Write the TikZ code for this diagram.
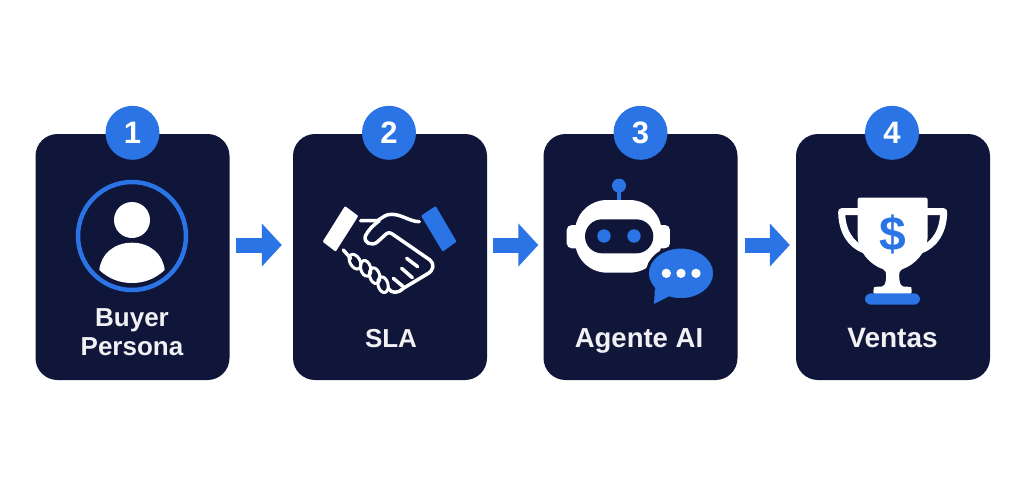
\documentclass[tikz,border=0pt]{standalone}
\usepackage{fontspec}
\setmainfont{Liberation Sans}
\usetikzlibrary{arrows.meta, positioning}
\definecolor{navy}{HTML}{10163A}
\definecolor{azure}{HTML}{2A74E6}
\definecolor{paper}{HTML}{FFFFFF}

\begin{document}
\begin{tikzpicture}[x=1pt,y=-1pt,>=Stealth]
  \tikzstyle{card}=[fill=navy,rounded corners=22pt,minimum width=194pt,minimum height=246pt,inner sep=0pt]
  \tikzstyle{badge}=[circle,fill=azure,text=white,minimum size=54pt,inner sep=0pt,font=\bfseries\fontsize{31}{31}\selectfont]
  \tikzstyle{caption}=[text=white!94!navy,align=center,inner sep=0pt,font=\bfseries\fontsize{26}{29}\selectfont]
  \tikzstyle{flow}=[draw=azure,line width=15pt,-{Triangle[width=42pt,length=20pt]}]
  \tikzstyle{handline}=[draw=white,line width=3.5pt,line cap=round,line join=round]
  \tikzstyle{knuckle}=[draw=white,line width=3pt,x radius=8pt,y radius=5pt]

  \fill[paper] (0,0) rectangle (1024,491);
  \useasboundingbox (0,0) rectangle (1024,491);

  \node[card] (C1) at (132.5,257) {};
  \node[card] (C2) at (390,257) {};
  \node[card] (C3) at (640.5,257) {};
  \node[card] (C4) at (893,257) {};

  \node[badge] (B1) at ([yshift=1pt]C1.north) {1};
  \node[badge] (B2) at ([xshift=-1pt,yshift=1pt]C2.north) {2};
  \node[badge] (B3) at ([yshift=1pt]C3.north) {3};
  \node[badge] (B4) at ([xshift=-1pt,yshift=1pt]C4.north) {4};

  \node[caption] (L1) at (132,332.5) {Buyer\\Persona};
  \node[caption,anchor=base] (L2) at (391,347) {SLA};
  \node[caption,anchor=base,font=\bfseries\fontsize{27.5}{29}\selectfont] (L3) at (639,347.5) {Agente AI};
  \node[caption,anchor=base,font=\bfseries\fontsize{28}{29}\selectfont] (L4) at (892.5,347.5) {Ventas};

  \draw[flow,shorten <=6pt,shorten >=11pt] ([yshift=12pt]C1.east) -- ([yshift=12pt]C2.west);
  \draw[flow,shorten <=6pt,shorten >=5pt] ([yshift=12pt]C2.east) -- ([yshift=12pt]C3.west);
  \draw[flow,shorten <=7pt,shorten >=6pt] ([yshift=12pt]C3.east) -- ([yshift=12pt]C4.west);

  % person
  \draw[azure,line width=4.5pt] (132,236) circle (54);
  \fill[white] (132,220) circle (18);
  \fill[white] (99.3,270) .. controls (101,254) and (114,242.7) .. (132,242.7)
    .. controls (150,242.7) and (163,254) .. (164.7,270)
    .. controls (155,279) and (144,283) .. (132,283)
    .. controls (120,283) and (109,279) .. (99.3,270) -- cycle;

  % handshake
  \begin{scope}[shift={(290,180)},x=.3333pt,y=-.3333pt]
    \fill[white,rounded corners=1pt] (165,78) -- (205,108) -- (137,215) -- (98,185) -- cycle;
    \fill[azure,rounded corners=1pt] (393,107) -- (437,78) -- (500,185) -- (458,215) -- cycle;
    \draw[handline] (212,122) -- (262,122) .. controls (280,112) and (285,103) .. (305,103)
      .. controls (335,103) and (360,125) .. (388,125);
    \draw[handline] (268,122) .. controls (250,135) and (235,150) .. (226,168)
      .. controls (220,188) and (245,200) .. (262,186) -- (285,165)
      .. controls (292,158) and (298,156) .. (307,162) -- (420,240)
      .. controls (434,252) and (432,272) .. (410,283) -- (340,325)
      .. controls (322,342) and (305,340) .. (295,325);
    \draw[handline] (350,235) -- (383,260);
    \draw[handline] (335,265) -- (367,293);
    \draw[handline] (310,295) -- (340,320);
    \draw[handline] (160,210) -- (182,235);
    \draw[knuckle,rotate around={-60:(195,245)}] (195,245) circle;
    \draw[knuckle,rotate around={-75:(227,265)}] (227,265) circle;
    \draw[knuckle,rotate around={-75:(254,287)}] (254,287) circle;
    \draw[knuckle,rotate around={-75:(279,314)}] (279,314) circle;
  \end{scope}

  % robot
  \begin{scope}[shift={(540,170)},x=.3333pt,y=-.3333pt]
    \fill[azure] (231,50) rectangle (243,95);
    \fill[azure] (237,47) circle (21);
    \fill[white,rounded corners=5pt] (80,165) rectangle (390,235);
    \fill[white,rounded corners=32pt] (105,90) rectangle (365,308);
    \fill[navy,rounded corners=17pt] (135,148) rectangle (340,250);
    \fill[azure] (192,198) circle (20);
    \fill[azure] (282,198) circle (20);
    \draw[navy,line width=3pt,fill=azure] (423,310) ellipse (101 and 79);
    \fill[azure] (345,355) -- (342,402) -- (395,375) -- cycle;
    \fill[white] (379,310) circle (14);
    \fill[white] (423,310) circle (14);
    \fill[white] (468,310) circle (14);
  \end{scope}

  % trophy
  \begin{scope}[shift={(790,170)},x=.3333pt,y=-.3333pt]
    \draw[white,line width=7pt,line join=round] (205,125) -- (155,125)
      .. controls (155,180) and (180,225) .. (225,240);
    \draw[white,line width=7pt,line join=round] (411,125) -- (461,125)
      .. controls (461,180) and (436,225) .. (391,240);
    \fill[white,rounded corners=2pt] (203,83) -- (413,83) -- (413,190)
      .. controls (413,245) and (375,285) .. (330,300)
      .. controls (326,320) and (328,335) .. (335,350) -- (358,350)
      .. controls (364,352) and (365,360) .. (365,372) -- (250,372)
      .. controls (250,360) and (252,352) .. (258,350) -- (281,350)
      .. controls (288,335) and (290,320) .. (286,300)
      .. controls (241,285) and (203,245) .. (203,190) -- cycle;
    \fill[azure,rounded corners=6pt] (225,370) rectangle (390,404);
    \node[text=azure,inner sep=0pt,font=\bfseries\fontsize{48}{48}\selectfont] (D4) at (308,193) {\$};
  \end{scope}
\end{tikzpicture}
\end{document}
